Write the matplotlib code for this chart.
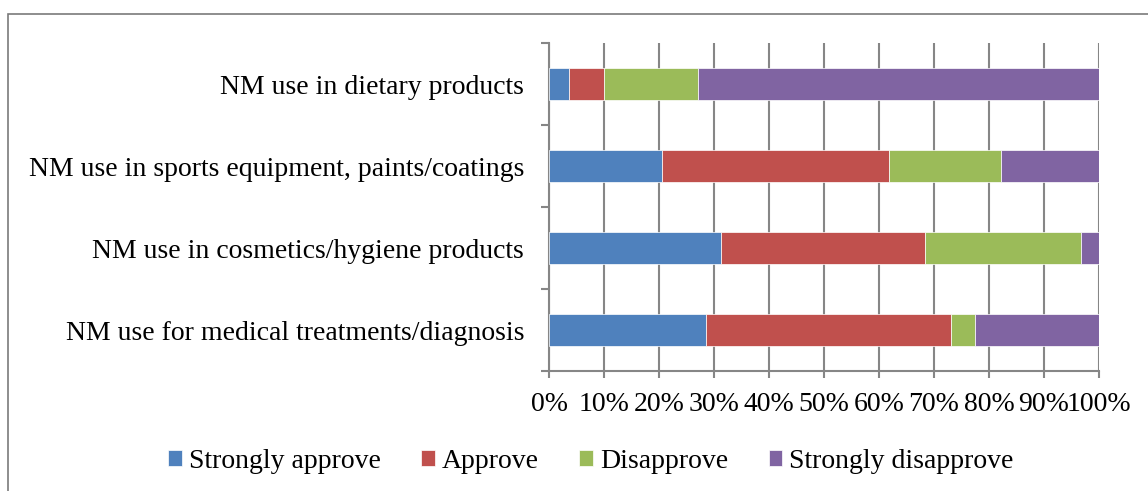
import matplotlib.pyplot as plt
import numpy as np
from matplotlib.patches import Rectangle

plt.rcParams["font.family"] = ["Liberation Serif", "DejaVu Serif"]

categories = [
    "NM use for medical treatments/diagnosis",
    "NM use in cosmetics/hygiene products",
    "NM use in sports equipment, paints/coatings",
    "NM use in dietary products",
]
series_names = ["Strongly approve", "Approve", "Disapprove", "Strongly disapprove"]
strongly_approve = [28.5, 31.3, 20.5, 3.6]
approve = [44.6, 37.1, 41.3, 6.4]
disapprove = [4.4, 28.3, 20.3, 17.1]
strongly_disapprove = [22.5, 3.3, 17.9, 72.9]
colors = ["#4F81BD", "#C0504D", "#9BBB59", "#8064A2"]
x_ticks = list(range(0, 101, 10))
x_tick_labels = [f"{t}%" for t in x_ticks]

W, H = 1148, 491
FS = 20
fig = plt.figure(figsize=(W / 100, H / 100), dpi=100)
ax = fig.add_axes([549 / W, 1 - 371 / H, 550 / W, (371 - 43) / H])

# outer frame (right and bottom edges fall outside the picture)
fig.patches.append(
    Rectangle((8 / W, -0.01), 1.0, 1 - 14 / H + 0.01,
              transform=fig.transFigure, fill=False, edgecolor="#7a7a7a", lw=1.2)
)

y = np.arange(len(categories))
left = np.zeros(len(categories))
for name, vals, c in zip(series_names,
                         [strongly_approve, approve, disapprove, strongly_disapprove],
                         colors):
    ax.barh(y, vals, left=left, height=0.4, color=c, label=name,
            edgecolor="white", linewidth=0.5, zorder=3)
    left += np.array(vals)

ax.set_xlim(0, 100)
ax.set_ylim(-0.5, 3.5)
ax.set_xticks(x_ticks)
ax.set_xticklabels(x_tick_labels, fontsize=FS)
ax.set_yticks(y)
ax.set_yticklabels(categories, fontsize=FS)
ax.tick_params(axis="y", length=0, pad=18)
ax.set_yticks(np.arange(-0.5, 4, 1), minor=True)
ax.tick_params(axis="y", which="minor", length=6, color="#868686", width=1.5)
ax.tick_params(axis="x", length=5, color="#868686", width=1.5, pad=10)
ax.grid(axis="x", color="#868686", lw=1.5, zorder=0)

for s in ["top", "right"]:
    ax.spines[s].set_visible(False)
for s in ["left", "bottom"]:
    ax.spines[s].set_color("#868686")
    ax.spines[s].set_linewidth(1.5)

fig.legend(loc="center", bbox_to_anchor=(591 / W, 1 - 461 / H), ncol=4,
           frameon=False, fontsize=FS, handlelength=0.5, handleheight=0.5,
           handletextpad=0.25, columnspacing=1.45)

fig.savefig("out.png", dpi=100)
